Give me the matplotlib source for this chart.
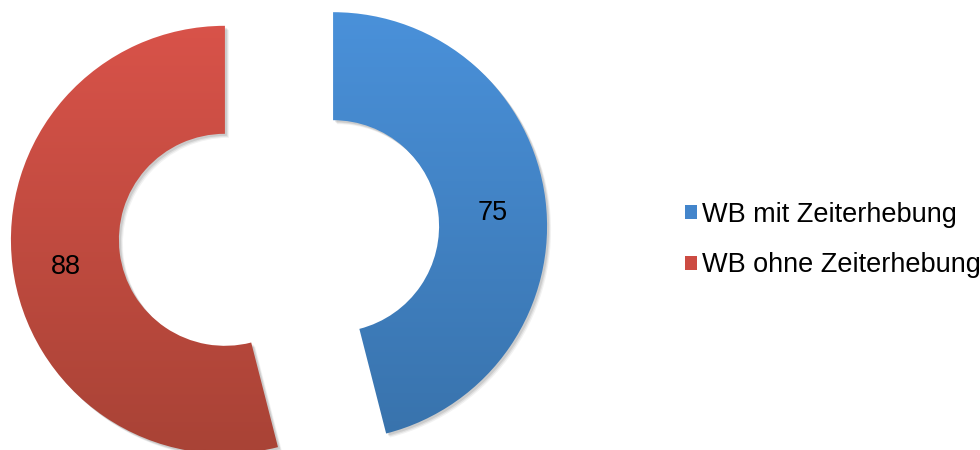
import numpy as np
import matplotlib.pyplot as plt
from matplotlib.colors import LinearSegmentedColormap
from matplotlib.patches import Patch, Wedge

plt.rcParams['font.family'] = ['Liberation Sans', 'DejaVu Sans']

# Data
categories = ['WB mit Zeiterhebung', 'WB ohne Zeiterhebung']
values = [75, 88]

# Colours (top / bottom of the vertical gradient)
grad_top = ['#4a91da', '#da534a']
grad_bottom = ['#3872ab', '#a94336']
legend_colors = ['#4385cb', '#cc4b42']

W, H = 980, 450
fig = plt.figure(figsize=(W / 100, H / 100), dpi=100)
ax = fig.add_axes([0, 0, 1, 1])

radius = 214
center = (279, 217)
total = sum(values)

# explode is given in data units here (pixels), since radius isn't 1
wedges, texts, autotexts = ax.pie(
    values,
    radius=radius,
    center=center,
    startangle=90,
    counterclock=False,
    explode=[54.5, 54.5],
    wedgeprops=dict(width=108, linewidth=0),
    autopct=lambda p: f"{round(p * total / 100)}",
    pctdistance=0.75,
    textprops=dict(fontsize=19.5, color='black'),
)

# soft drop shadow + vertical gradient fill clipped to each wedge
grad = np.linspace(1, 0, 256).reshape(-1, 1)
for i, w in enumerate(wedges):
    for dx, dy, a in [(4, -4, 0.05), (3, -3, 0.07), (2, -2, 0.09)]:
        sh = Wedge((w.center[0] + dx, w.center[1] + dy), w.r, w.theta1, w.theta2,
                   width=w.width, facecolor='black', alpha=a, linewidth=0, zorder=0.5)
        ax.add_patch(sh)
    cmap = LinearSegmentedColormap.from_list(f'g{i}', [grad_bottom[i], grad_top[i]])
    im = ax.imshow(grad, extent=[0, W, 0, 440], origin='upper', cmap=cmap,
                   aspect='auto', zorder=1, interpolation='bilinear')
    im.set_clip_path(w)
    w.set_facecolor('none')
    w.set_zorder(1.5)

# value labels sit a little below the slice bisector
for t in autotexts:
    x, y = t.get_position()
    t.set_position((x, y - 7))
    t.set_zorder(3)

handles = [Patch(facecolor=c, linewidth=0) for c in legend_colors]
ax.legend(handles, categories, loc='center left', bbox_to_anchor=(671 / W, 210 / H),
          frameon=False, fontsize=19.5, handlelength=0.45, handleheight=0.45,
          handletextpad=0.2, labelspacing=0.92, borderpad=0)

ax.set_xlim(0, W)
ax.set_ylim(0, H)
ax.set_aspect('auto')
ax.axis('off')

fig.savefig('out.png', dpi=100)
